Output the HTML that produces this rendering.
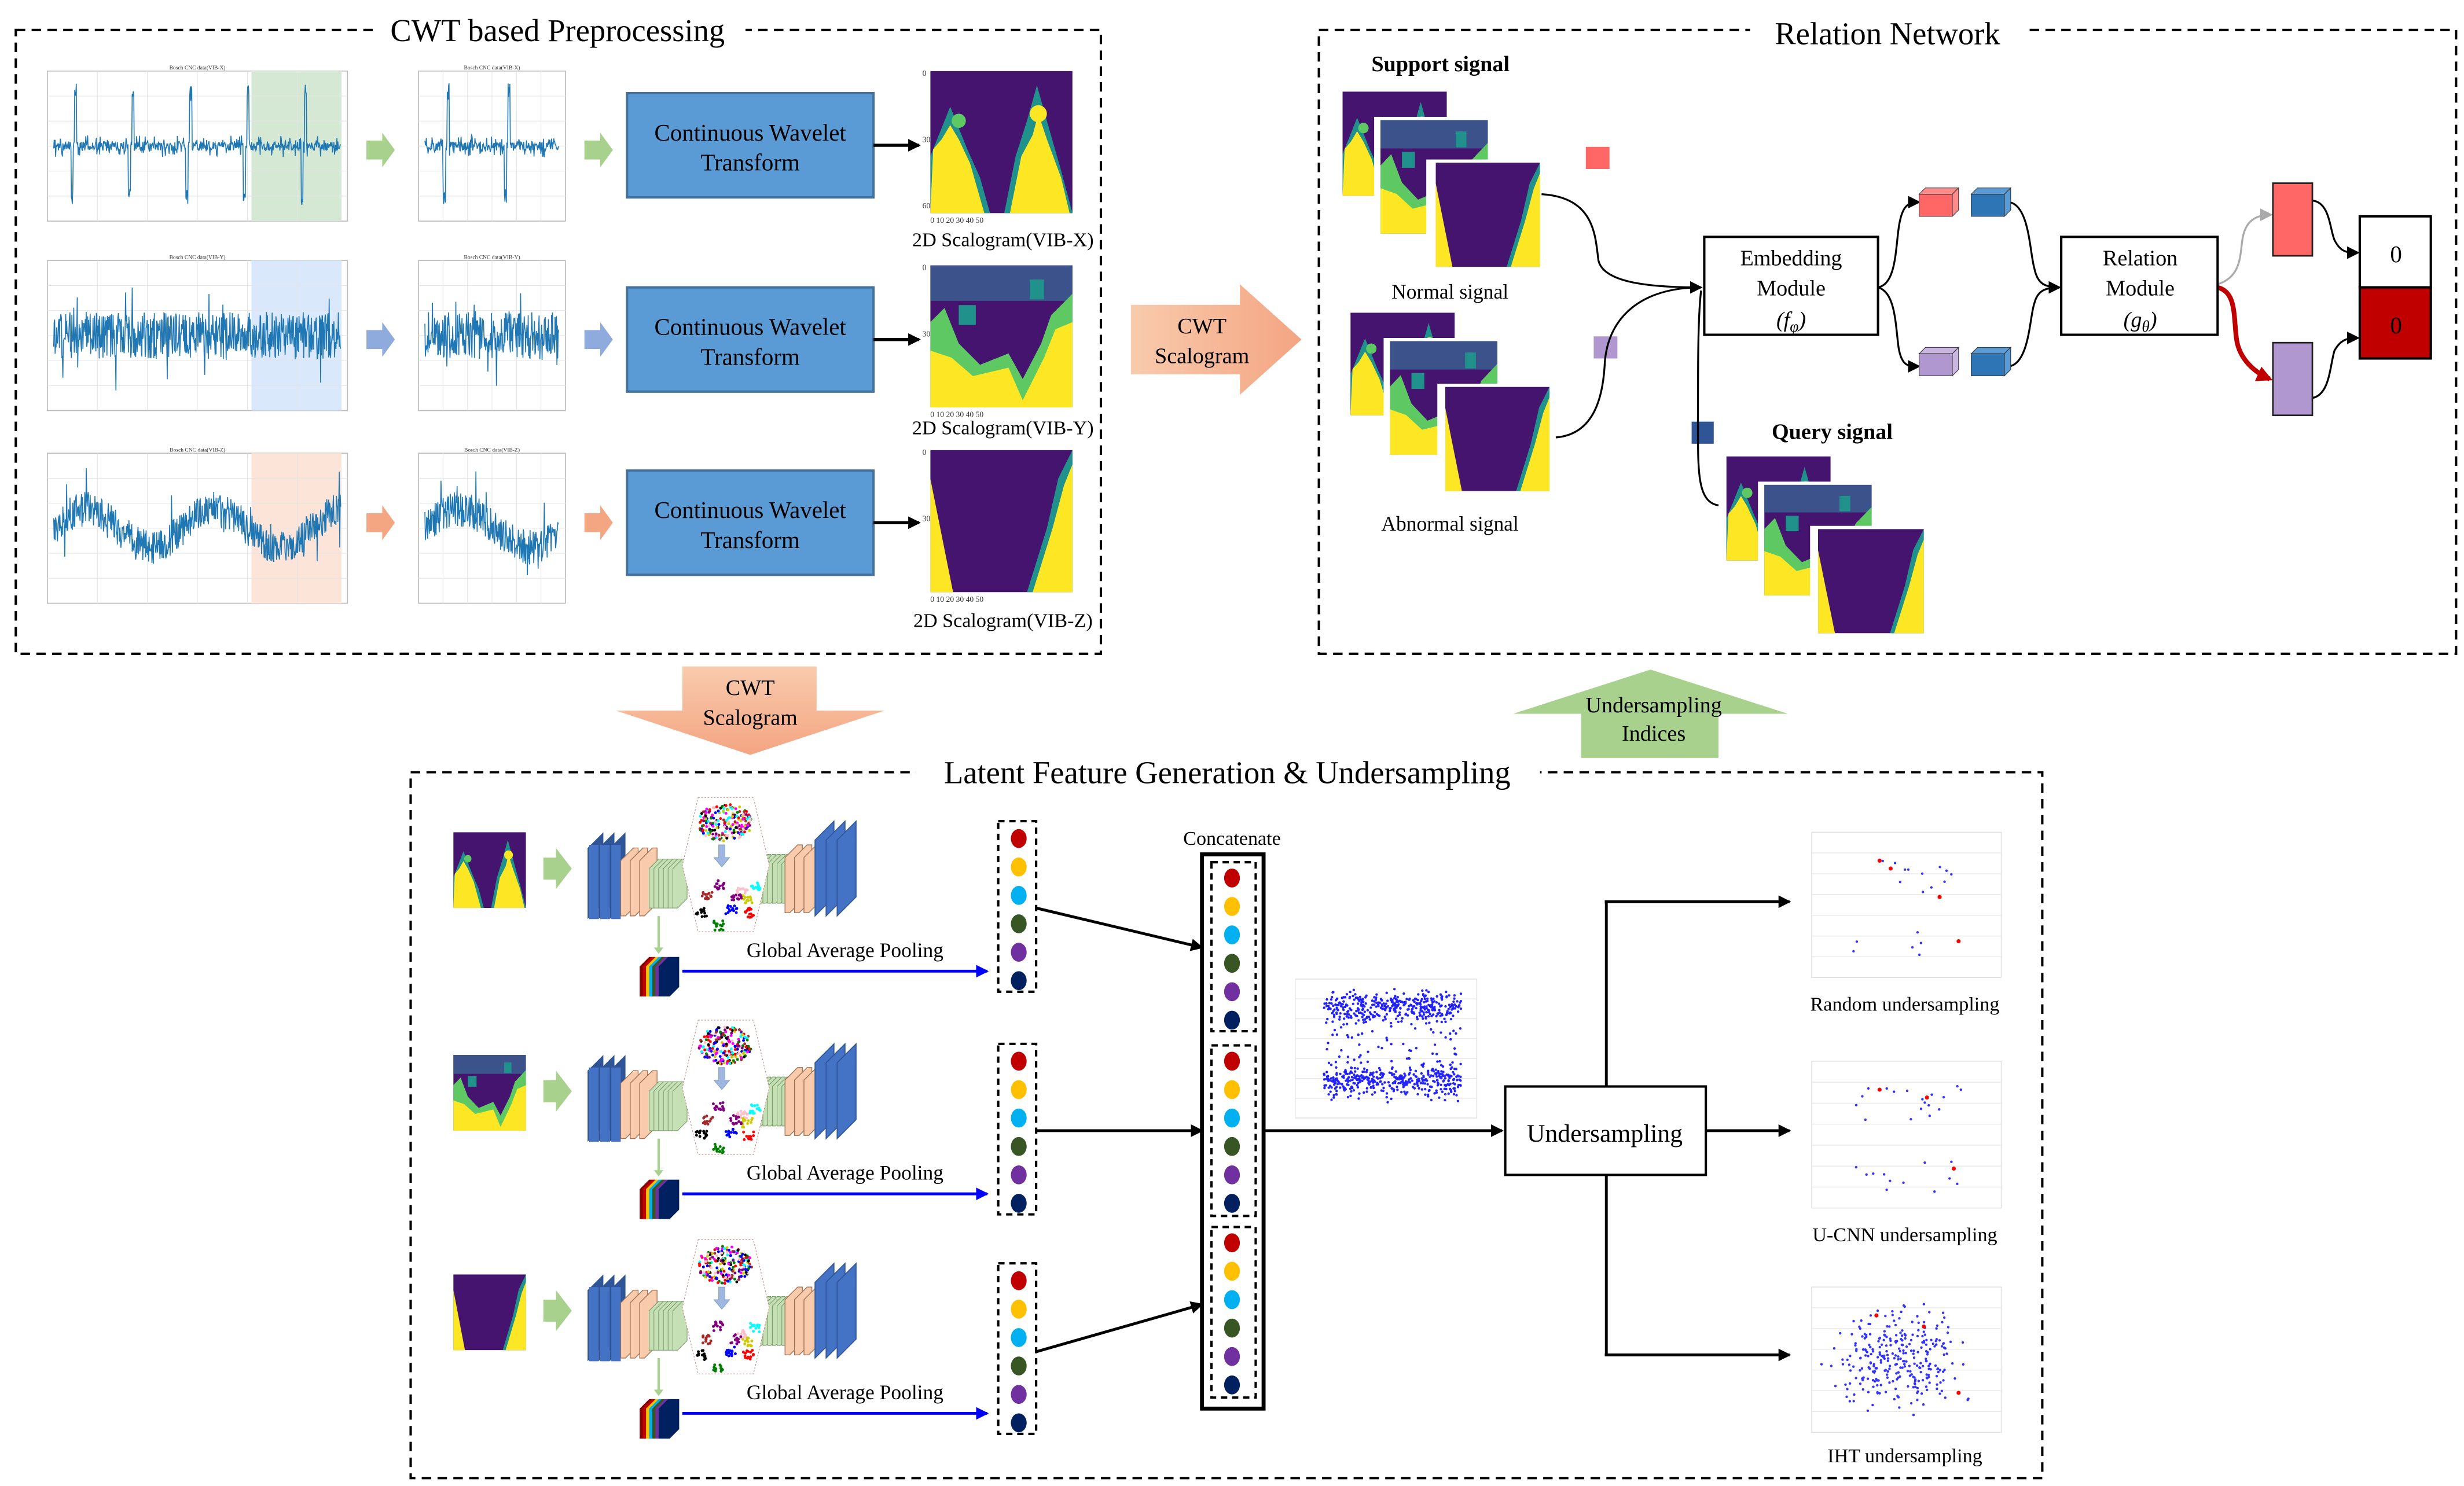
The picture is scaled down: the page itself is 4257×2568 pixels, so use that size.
<!DOCTYPE html>
<html><head><meta charset="utf-8"><style>
html,body{margin:0;padding:0;background:#fff;}
svg{display:block;}
text{font-family:"Liberation Serif",serif;}
</style></head><body>
<svg id="s" xmlns="http://www.w3.org/2000/svg" width="4257" height="2568" viewBox="0 0 1560 941" preserveAspectRatio="none">
<defs>
<marker id="ak" markerWidth="8" markerHeight="8" refX="7" refY="4" orient="auto" markerUnits="userSpaceOnUse"><path d="M0,0 L8,4 L0,8 z" fill="#000"/></marker>
<marker id="ab" markerWidth="8" markerHeight="8" refX="7" refY="4" orient="auto" markerUnits="userSpaceOnUse"><path d="M0,0 L8,4 L0,8 z" fill="#0000ff"/></marker>
<marker id="ar" markerWidth="10" markerHeight="10" refX="8" refY="5" orient="auto" markerUnits="userSpaceOnUse"><path d="M0,0 L10,5 L0,10 z" fill="#c00000"/></marker>
<marker id="ag" markerWidth="8" markerHeight="8" refX="7" refY="4" orient="auto" markerUnits="userSpaceOnUse"><path d="M0,0 L8,4 L0,8 z" fill="#aaa"/></marker>
<linearGradient id="og" x1="0" y1="0" x2="1" y2="0"><stop offset="0" stop-color="#f8cbad"/><stop offset="1" stop-color="#f4a582"/></linearGradient>
<linearGradient id="og2" x1="0" y1="0" x2="0" y2="1"><stop offset="0" stop-color="#f8cbad"/><stop offset="1" stop-color="#f4a582"/></linearGradient>
<symbol id="scA" viewBox="0 0 100 100" preserveAspectRatio="none">
<rect width="100" height="100" fill="#45146e"/>
<path d="M0,100 L0,60 L8,40 L14,25 L20,40 L26,55 L35,75 L42,100 Z" fill="#21918c"/>
<path d="M0,100 L2,55 L8,48 L14,38 L20,48 L28,65 L38,100 Z" fill="#fde725"/>
<path d="M52,100 L60,60 L68,35 L75,10 L82,35 L92,70 L100,100 Z" fill="#21918c"/>
<path d="M56,100 L64,60 L72,45 L76,30 L82,48 L92,75 L98,100 Z" fill="#fde725"/>
<circle cx="76" cy="30" r="6" fill="#fde725"/><circle cx="20" cy="35" r="5" fill="#5ec962"/>
</symbol>
<symbol id="scB" viewBox="0 0 100 100" preserveAspectRatio="none">
<rect width="100" height="100" fill="#45146e"/>
<rect x="0" y="0" width="100" height="25" fill="#3b528b"/>
<path d="M0,100 L0,40 L10,30 L20,55 L35,70 L55,62 L65,80 L78,55 L85,35 L100,20 L100,100 Z" fill="#5ec962"/>
<path d="M0,100 L0,60 L15,65 L30,78 L55,72 L65,95 L80,65 L88,45 L100,40 L100,100 Z" fill="#fde725"/>
<rect x="20" y="28" width="12" height="14" fill="#21918c"/><rect x="70" y="10" width="10" height="14" fill="#21918c"/>
</symbol>
<symbol id="scC" viewBox="0 0 100 100" preserveAspectRatio="none">
<rect width="100" height="100" fill="#45146e"/>
<path d="M0,20 L16,100 L0,100 Z" fill="#fde725"/>
<path d="M100,0 L100,100 L68,100 L82,55 L90,20 Z" fill="#21918c"/>
<path d="M100,10 L100,100 L72,100 L86,55 L94,25 Z" fill="#fde725"/>
</symbol>
</defs>

<rect x="10" y="19" width="687" height="395" fill="none" stroke="#000" stroke-width="1.5" stroke-dasharray="6,4"/>
<rect x="236" y="8" width="236" height="24" fill="#fff"/>
<text x="353" y="26" font-size="20" text-anchor="middle">CWT based Preprocessing</text>
<g id="plots"></g>

<g font-size="15" text-anchor="middle">
<rect x="397" y="59" width="156" height="66" fill="#5b9bd5" stroke="#41719c" stroke-width="1.5"/>
<text x="475" y="89">Continuous Wavelet</text><text x="475" y="108">Transform</text>
<rect x="397" y="182" width="156" height="66" fill="#5b9bd5" stroke="#41719c" stroke-width="1.5"/>
<text x="475" y="212">Continuous Wavelet</text><text x="475" y="231">Transform</text>
<rect x="397" y="298" width="156" height="66" fill="#5b9bd5" stroke="#41719c" stroke-width="1.5"/>
<text x="475" y="328">Continuous Wavelet</text><text x="475" y="347">Transform</text>
</g>
<line x1="553" y1="92" x2="582" y2="92" stroke="#000" stroke-width="2" marker-end="url(#ak)"/>
<line x1="553" y1="215" x2="582" y2="215" stroke="#000" stroke-width="2" marker-end="url(#ak)"/>
<line x1="553" y1="331" x2="582" y2="331" stroke="#000" stroke-width="2" marker-end="url(#ak)"/>
<use href="#scA" x="589" y="45" width="90" height="90"/>
<use href="#scB" x="589" y="168" width="90" height="90"/>
<use href="#scC" x="589" y="285" width="90" height="90"/>
<g font-size="5" fill="#333"><text x="584" y="48">0</text><text x="584" y="90">30</text><text x="584" y="132">60</text><text x="589" y="141">0  10  20  30  40  50</text>
<text x="584" y="171">0</text><text x="584" y="213">30</text><text x="589" y="264">0  10  20  30  40  50</text>
<text x="584" y="288">0</text><text x="584" y="330">30</text><text x="589" y="381">0  10  20  30  40  50</text></g>
<g font-size="12.5" text-anchor="middle"><text x="635" y="156">2D Scalogram(VIB-X)</text><text x="635" y="275">2D Scalogram(VIB-Y)</text><text x="635" y="397">2D Scalogram(VIB-Z)</text></g>

<path d="M716,193 L785,193 L785,180 L824,215 L785,250 L785,237 L716,237 Z" fill="url(#og)"/>
<text x="761" y="211" font-size="14" text-anchor="middle">CWT</text><text x="761" y="230" font-size="14" text-anchor="middle">Scalogram</text>
<path d="M432,422 L517,422 L517,450 L560,450 L475,478 L390,450 L432,450 Z" fill="url(#og2)"/>
<text x="475" y="440" font-size="14" text-anchor="middle">CWT</text><text x="475" y="459" font-size="14" text-anchor="middle">Scalogram</text>
<path d="M1001,480 L1088,480 L1088,452 L1132,452 L1045,424 L958,452 L1001,452 Z" fill="#a9d18e"/>
<text x="1047" y="451" font-size="14" text-anchor="middle">Undersampling</text><text x="1047" y="469" font-size="14" text-anchor="middle">Indices</text>

<rect x="835" y="19" width="720" height="395" fill="none" stroke="#000" stroke-width="1.5" stroke-dasharray="6,4"/>
<rect x="1108" y="8" width="176" height="24" fill="#fff"/>
<text x="1195" y="28" font-size="20" text-anchor="middle">Relation Network</text>
<text x="912" y="45" font-size="14" font-weight="bold" text-anchor="middle" font-family="Liberation Sans">Support signal</text>
<g>
<use href="#scA" x="850" y="58" width="66" height="66"/><rect x="870" y="74" width="73" height="78" fill="#fff"/>
<use href="#scB" x="874" y="76" width="68" height="72"/><rect x="903" y="101" width="73" height="70" fill="#fff"/>
<use href="#scC" x="909" y="103" width="66" height="66"/>
<use href="#scA" x="855" y="198" width="66" height="65"/><rect x="876" y="214" width="73" height="76" fill="#fff"/>
<use href="#scB" x="880" y="216" width="68" height="72"/><rect x="910" y="243" width="73" height="70" fill="#fff"/>
<use href="#scC" x="915" y="245" width="66" height="66"/>
<use href="#scA" x="1093" y="289" width="66" height="66"/><rect x="1113" y="305" width="73" height="80" fill="#fff"/>
<use href="#scB" x="1117" y="307" width="68" height="70"/><rect x="1146" y="333" width="73" height="70" fill="#fff"/>
<use href="#scC" x="1151" y="335" width="67" height="66"/>
</g>
<text x="918" y="189" font-size="13" text-anchor="middle">Normal signal</text>
<text x="918" y="336" font-size="13" text-anchor="middle">Abnormal signal</text>
<rect x="1004" y="93" width="15" height="14" fill="#ff6666"/>
<rect x="1009" y="213" width="15" height="14" fill="#b197d0"/>
<rect x="1071" y="267" width="14" height="14" fill="#2f5597"/>
<text x="1160" y="278" font-size="14" font-weight="bold" text-anchor="middle" font-family="Liberation Sans">Query signal</text>
<g fill="none" stroke="#000" stroke-width="1.2">
<path d="M976,123 C1010,125 1010,150 1012,165 C1015,178 1040,182 1077,182" marker-end="url(#ak)"/>
<path d="M985,277 C1010,275 1015,250 1016,230 C1018,200 1040,182 1077,182"/>
<path d="M1088,320 C1075,318 1075,300 1075,270 C1075,230 1075,200 1077,184"/>
<path d="M1189,182 C1200,180 1200,160 1202,145 C1204,130 1208,128 1215,128" marker-end="url(#ak)"/>
<path d="M1189,182 C1200,185 1200,205 1202,220 C1204,232 1208,232 1215,232" marker-end="url(#ak)"/>
<path d="M1272,128 C1285,130 1285,160 1288,170 C1290,180 1295,182 1304,182" marker-end="url(#ak)"/>
<path d="M1272,232 C1285,230 1285,200 1288,192 C1290,184 1295,182 1304,182"/>
<path d="M1464,127 C1475,128 1475,145 1478,152 C1482,160 1486,160 1493,160" marker-end="url(#ak)"/>
<path d="M1464,252 C1475,250 1475,232 1478,222 C1482,215 1486,214 1493,214" marker-end="url(#ak)"/>
</g>
<path d="M1404,180 C1420,175 1418,160 1420,150 C1422,140 1428,136 1438,136" fill="none" stroke="#aaa" stroke-width="1.2" marker-end="url(#ag)"/>
<path d="M1404,182 C1416,185 1414,200 1416,215 C1418,228 1428,236 1437,240" fill="none" stroke="#c00000" stroke-width="3" marker-end="url(#ar)"/>
<rect x="1079" y="150" width="110" height="62" fill="#fff" stroke="#000" stroke-width="1.5"/>
<text x="1134" y="168" font-size="14" text-anchor="middle">Embedding</text><text x="1134" y="187" font-size="14" text-anchor="middle">Module</text><text x="1134" y="207" font-size="14" text-anchor="middle" font-style="italic">(f<tspan font-size="10" dy="3">φ</tspan><tspan dy="-3">)</tspan></text>
<rect x="1305" y="150" width="99" height="62" fill="#fff" stroke="#000" stroke-width="1.5"/>
<text x="1355" y="168" font-size="14" text-anchor="middle">Relation</text><text x="1355" y="187" font-size="14" text-anchor="middle">Module</text><text x="1355" y="207" font-size="14" text-anchor="middle" font-style="italic">(g<tspan font-size="10" dy="3">θ</tspan><tspan dy="-3">)</tspan></text>
<g id="cubes"></g>
<rect x="1439" y="116" width="25" height="46" fill="#ff6666" stroke="#222" stroke-width="1"/>
<rect x="1439" y="217" width="25" height="46" fill="#b197d0" stroke="#222" stroke-width="1"/>
<rect x="1494" y="137" width="45" height="45" fill="#fff" stroke="#000" stroke-width="1.5"/>
<rect x="1494" y="182" width="45" height="45" fill="#c00000" stroke="#000" stroke-width="1.5"/>
<text x="1517" y="166" font-size="15" text-anchor="middle">0</text><text x="1517" y="211" font-size="15" text-anchor="middle">0</text>

<rect x="260" y="489" width="1033" height="447" fill="none" stroke="#000" stroke-width="1.5" stroke-dasharray="6,4"/>
<rect x="580" y="477" width="395" height="24" fill="#fff"/>
<text x="777" y="496" font-size="20" text-anchor="middle">Latent Feature Generation &amp; Undersampling</text>
<g id="rows"></g>
<text x="780" y="535" font-size="12.5" text-anchor="middle">Concatenate</text>
<rect x="761" y="541" width="39" height="351" fill="none" stroke="#000" stroke-width="2.5"/>
<g fill="none" stroke="#000" stroke-width="1.5" stroke-dasharray="4,3">
<rect x="767" y="546" width="28" height="107"/><rect x="767" y="662" width="28" height="108"/><rect x="767" y="777" width="28" height="108"/></g>
<g id="cdots"></g>
<g stroke="#000" stroke-width="1.8" fill="none">
<line x1="656" y1="575" x2="761" y2="600" marker-end="url(#ak)"/>
<line x1="656" y1="716" x2="761" y2="716" marker-end="url(#ak)"/>
<line x1="656" y1="856" x2="761" y2="826" marker-end="url(#ak)"/>
<line x1="800" y1="716" x2="951" y2="716" marker-end="url(#ak)"/>
<line x1="1017" y1="571" x2="1017" y2="688"/><line x1="1017" y1="744" x2="1017" y2="858"/>
<line x1="1016" y1="571" x2="1133" y2="571" marker-end="url(#ak)"/>
<line x1="1080" y1="716" x2="1133" y2="716" marker-end="url(#ak)"/>
<line x1="1016" y1="858" x2="1133" y2="858" marker-end="url(#ak)"/>
</g>
<rect x="953" y="688" width="127" height="56" fill="#fff" stroke="#000" stroke-width="1.5"/>
<text x="1016" y="723" font-size="16" text-anchor="middle">Undersampling</text>
<g id="scat"></g>
<g font-size="12.5" text-anchor="middle"><text x="1206" y="640">Random undersampling</text><text x="1206" y="786">U-CNN undersampling</text><text x="1206" y="926">IHT undersampling</text></g>
</svg>
<script>
var NS="http://www.w3.org/2000/svg";
var st=123456789;function R(){st|=0;st=st+0x6D2B79F5|0;var t=Math.imul(st^st>>>15,1|st);t=t+Math.imul(t^t>>>7,61|t)^t;return((t^t>>>14)>>>0)/4294967296;}
function el(p,t,a){var e=document.createElementNS(NS,t);for(var k in a)e.setAttribute(k,a[k]);p.appendChild(e);return e;}
var P=document.getElementById('plots');
var rows=[45,165,287],shade=['#d5e8d4','#dae8fc','#fce5d8'],ac=['#a9d18e','#8faadc','#f4a582'];
for(var r=0;r<3;r++){
 var y0=rows[r],h=95;
 [[30,190,true],[265,93,false]].forEach(function(q){
  var x0=q[0],w=q[1];
  el(P,'rect',{x:x0,y:y0,width:w,height:h,fill:'#fff',stroke:'#bbb','stroke-width':0.6});
  if(q[2])el(P,'rect',{x:x0+w*0.68,y:y0,width:w*0.3,height:h,fill:shade[r]});
  for(var g=1;g<6;g++){el(P,'line',{x1:x0+w*g/6,y1:y0,x2:x0+w*g/6,y2:y0+h,stroke:'#e4e4e4','stroke-width':0.4});el(P,'line',{x1:x0,y1:y0+h*g/6,x2:x0+w,y2:y0+h*g/6,stroke:'#e4e4e4','stroke-width':0.4});}
  var d='',n=q[2]?600:300,mid=y0+h/2;
  for(var i=0;i<n;i++){var x=x0+4+(w-8)*i/n,v;
   if(r==0){v=(R()-0.5)*(R()<0.3?14:6);var ph=(i/n*(q[2]?5:2.2))%1;if(ph>0.30&&ph<0.34)v=-38*(0.7+R()*0.3);if(ph>0.36&&ph<0.40)v=40*(0.7+R()*0.3);}
   else if(r==1){v=(R()-0.5)*(R()<0.05?70:30);}
   else{var lv=Math.sin(i/n*(q[2]?14:6))*12;v=lv+(R()-0.5)*(R()<0.05?55:22);}
   d+=(i?'L':'M')+x.toFixed(1)+','+(mid-v).toFixed(1);}
  el(P,'path',{d:d,fill:'none',stroke:'#1f77b4','stroke-width':0.6});
  var t=el(P,'text',{x:x0+w/2,y:y0-1,'font-size':3.5,'text-anchor':'middle',fill:'#333'});t.textContent='Bosch CNC data(VIB-'+'XYZ'[r]+')';
 });
 var ay=[95,215,331][r];
 [232,370].forEach(function(ax){el(P,'path',{d:'M'+ax+','+(ay-6)+' L'+(ax+10)+','+(ay-6)+' L'+(ax+10)+','+(ay-11)+' L'+(ax+18)+','+ay+' L'+(ax+10)+','+(ay+11)+' L'+(ax+10)+','+(ay+6)+' L'+ax+','+(ay+6)+' Z',fill:ac[r]});});
}
var C=document.getElementById('cubes');
function cube(x,y,c,c2){el(C,'path',{d:'M'+x+','+(y+4)+' l4,-4 h21 l-4,4 z',fill:c2,stroke:'#333','stroke-width':0.4});el(C,'path',{d:'M'+(x+21)+','+(y+4)+' l4,-4 v14 l-4,4 z',fill:c2,stroke:'#333','stroke-width':0.4});el(C,'rect',{x:x,y:y+4,width:21,height:14,fill:c,stroke:'#333','stroke-width':0.4});}
cube(1215,119,'#ff6666','#ff8a8a');cube(1248,119,'#2e75b6','#5b9bd5');cube(1215,220,'#b197d0','#c9b5e0');cube(1248,220,'#2e75b6','#5b9bd5');
var G=document.getElementById('rows');var dc=['#c00000','#ffc000','#00b0f0','#375623','#7030a0','#002060'];
var syms=['#scA','#scB','#scC'];var ry=[0,141,280];
for(var r=0;r<3;r++){var o=ry[r];
 el(G,'use',{href:syms[r],x:287,y:527+o,width:46,height:48});
 el(G,'path',{d:'M344,'+(543+o)+' h8 v-6 l10,13 l-10,13 v-6 h-8 z',fill:'#a9d18e'});
 for(var i=0;i<3;i++){var X=372+i*7;el(G,'path',{d:'M'+X+','+(537+o)+' l10,-10 v45 l-10,10 z',fill:'#2f5597'});el(G,'rect',{x:X+1,y:535+o,width:6,height:47,fill:'#4472c4'});}
 for(var i=0;i<3;i++){var X=393+i*6;el(G,'path',{d:'M'+X+','+(545+o)+' l8,-8 h3 v35 l-8,8 h-3 z',fill:'#f8cbad',stroke:'#a07050','stroke-width':0.5});}
 for(var i=0;i<6;i++){var X=411+i*3;el(G,'path',{d:'M'+X+','+(550+o)+' l6,-6 h3 v25 l-6,6 h-3 z',fill:'#c5e0b4',stroke:'#7a9a6a','stroke-width':0.4});}
 for(var i=0;i<6;i++){var X=480+i*3;el(G,'path',{d:'M'+X+','+(547+o)+' l6,-6 h2 v25 l-6,6 h-2 z',fill:'#c5e0b4',stroke:'#7a9a6a','stroke-width':0.4});}
 for(var i=0;i<3;i++){var X=497+i*6;el(G,'path',{d:'M'+X+','+(543+o)+' l8,-8 h3 v35 l-8,8 h-3 z',fill:'#f8cbad',stroke:'#a07050','stroke-width':0.5});}
 for(var i=0;i<3;i++){var X=516+i*7;el(G,'path',{d:'M'+X+','+(532+o)+' l12,-12 v48 l-12,12 z',fill:'#4472c4',stroke:'#2f5597','stroke-width':0.6});}
 el(G,'path',{d:'M442,'+(505+o)+' L477,'+(505+o)+' L487,'+(548+o)+' L477,'+(590+o)+' L442,'+(590+o)+' L432,'+(548+o)+' Z',fill:'#fff',stroke:'#c08080','stroke-width':0.4,'stroke-dasharray':'1,1'});
 var tc=['#ff0000','#0000ff','#008000','#800080','#000','#00ffff','#ffc0cb','#a52a2a','#cccc00','#ff00ff'];
 for(var i=0;i<220;i++){var a=R()*6.28,rr=Math.sqrt(R());el(G,'circle',{cx:459+Math.cos(a)*rr*17,cy:521+o+Math.sin(a)*rr*12,r:0.9,fill:tc[Math.floor(R()*10)]});}
 var cen=[[448,568],[455,560],[470,565],[478,561],[444,578],[463,576],[474,578],[455,586],[473,570],[466,568]];
 var cc=['#a52a2a','#800080','#ffc0cb','#00ffff','#000','#0000ff','#ff0000','#008000','#cccc00','#800080'];
 for(var k=0;k<10;k++)for(var i=0;i<14;i++){el(G,'circle',{cx:cen[k][0]+(R()-0.5)*7,cy:cen[k][1]+o+(R()-0.5)*6,r:0.9,fill:cc[k]});}
 el(G,'path',{d:'M455,'+(535+o)+' h4 v8 h3 l-5,6 l-5,-6 h3 z',fill:'#9fb7e0',stroke:'#7090c0','stroke-width':0.3});
 el(G,'line',{x1:417,y1:580+o,x2:417,y2:602+o,stroke:'#a9d18e','stroke-width':1.5});
 el(G,'path',{d:'M414,'+(600+o)+' h6 l-3,4 z',fill:'#a9d18e'});
 var sc=['#8b0000','#c00000','#ffc000','#00b0f0','#375623','#7030a0','#002060'];
 for(var i=0;i<7;i++){var X=405+i*2;el(G,'path',{d:'M'+X+','+(612+o)+' l6,-6 h2 v19 l-6,6 h-2 z',fill:sc[i]});}
 el(G,'path',{d:'M419,'+(612+o)+' l6,-6 h5 v19 l-6,6 h-5 z',fill:'#002060'});
 var t=el(G,'text',{x:535,y:606+o,'font-size':13,'text-anchor':'middle'});t.textContent='Global Average Pooling';
 el(G,'line',{x1:432,y1:615+o,x2:625,y2:615+o,stroke:'#0000ff','stroke-width':1.8,'marker-end':'url(#ab)'});
 el(G,'rect',{x:632,y:520+o,width:24,height:108,fill:'none',stroke:'#000','stroke-width':1.5,'stroke-dasharray':'4,3'});
 for(var i=0;i<6;i++)el(G,'ellipse',{cx:645,cy:531+o+i*18,rx:5,ry:6,fill:dc[i]});
}
var CD=document.getElementById('cdots');
[556,672,787].forEach(function(b){for(var i=0;i<6;i++)el(CD,'ellipse',{cx:780,cy:b+i*18,rx:5,ry:6,fill:dc[i]});});
var S=document.getElementById('scat');
function frame(x,y,w,h){el(S,'rect',{x:x,y:y,width:w,height:h,fill:'#fff',stroke:'#ddd','stroke-width':0.5});for(var g=1;g<7;g++)el(S,'line',{x1:x,y1:y+h*g/7,x2:x+w,y2:y+h*g/7,stroke:'#e6e6e6','stroke-width':0.5});}
frame(820,620,115,88);
for(var i=0;i<700;i++){var cy=(i%2)?638:684;el(S,'circle',{cx:838+R()*87,cy:cy+(R()+R()+R()-1.5)*9,r:0.8,fill:'#2222ff'});}
for(var i=0;i<150;i++){el(S,'circle',{cx:840+R()*85,cy:628+R()*70,r:0.8,fill:'#2222ff'});}
frame(1147,527,120,92);frame(1147,672,120,93);frame(1147,815,120,92);
for(var i=0;i<18;i++){el(S,'circle',{cx:1170+R()*70,cy:i<12?545+R()*20:590+R()*15,r:0.8,fill:'#3333ff'});}
[[1190,545],[1197,550],[1228,568],[1240,596]].forEach(function(p){el(S,'circle',{cx:p[0],cy:p[1],r:1.3,fill:'#f00'});});
for(var i=0;i<30;i++){el(S,'circle',{cx:1175+R()*70,cy:i<18?687+R()*25:735+R()*20,r:0.8,fill:'#3333ff'});}
[[1190,690],[1220,695],[1237,740]].forEach(function(p){el(S,'circle',{cx:p[0],cy:p[1],r:1.3,fill:'#f00'});});
for(var i=0;i<300;i++){el(S,'circle',{cx:1200+(R()+R()+R()-1.5)*35,cy:860+(R()+R()+R()-1.5)*28,r:0.8,fill:'#3333ff'});}
[[1188,833],[1218,840],[1240,882]].forEach(function(p){el(S,'circle',{cx:p[0],cy:p[1],r:1.3,fill:'#f00'});});
</script>
</body></html>
